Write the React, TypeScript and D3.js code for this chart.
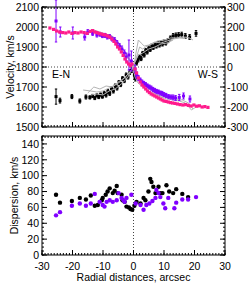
import React from 'react';
import * as d3 from 'd3';

// radial distance (arcsec), velocity (km/s), error
const blackVel: [number, number, number][] = [
  [-25.4, 1652, 38], [-24.1, 1632, 12], [-20.2, 1652, 10], [-17.6, 1630, 10], [-15.6, 1650, 10],
  [-14.3, 1648, 8], [-13.4, 1655, 8], [-12.7, 1645, 8], [-12.0, 1658, 8], [-11.4, 1650, 8],
  [-10.8, 1662, 8], [-10.2, 1652, 8], [-9.6, 1668, 10], [-9.0, 1660, 10], [-8.4, 1678, 10],
  [-7.8, 1668, 10], [-7.2, 1692, 10], [-6.6, 1680, 10], [-6.0, 1705, 10], [-5.4, 1695, 10],
  [-4.8, 1722, 10], [-4.2, 1712, 10], [-3.6, 1742, 10], [-3.0, 1732, 10], [-2.4, 1760, 10],
  [-1.8, 1750, 10], [-1.2, 1775, 12], [-0.6, 1785, 12], [-0.1, 1795, 12], [0.3, 1760, 15],
  [0.6, 1742, 12], [1.0, 1820, 10], [1.5, 1835, 10], [2.0, 1850, 10], [2.5, 1842, 10],
  [3.0, 1868, 10], [3.5, 1860, 10], [4.0, 1882, 10], [4.5, 1875, 10], [5.0, 1895, 10],
  [5.5, 1888, 10], [6.0, 1905, 10], [6.5, 1898, 10], [7.0, 1912, 10], [7.5, 1905, 10],
  [8.0, 1918, 10], [8.5, 1910, 10], [9.0, 1922, 10], [9.5, 1915, 10], [10.0, 1925, 10],
  [10.6, 1920, 10], [11.3, 1932, 10], [12.1, 1945, 10], [13.0, 1955, 12], [13.9, 1958, 12],
  [14.8, 1960, 12], [15.8, 1962, 12], [17.0, 1955, 12], [18.4, 1950, 12], [20.5, 1968, 14],
];

const pinkVel: [number, number][] = [
  [-27.4, 1995], [-26.2, 1988], [-25.2, 1980], [-24.2, 1975], [-23.2, 1972], [-22.2, 1970],
  [-21.2, 1975], [-20.2, 1968], [-19.2, 1972], [-18.2, 1970], [-17.2, 1975], [-16.2, 1972],
  [-15.2, 1968], [-14.2, 1978], [-13.4, 1982], [-12.7, 1975], [-12.0, 1972], [-11.3, 1968],
  [-10.6, 1965], [-9.9, 1962], [-9.2, 1960], [-8.5, 1955], [-7.8, 1950], [-7.1, 1940],
  [-6.4, 1928], [-5.8, 1915], [-5.2, 1900], [-4.6, 1890], [-4.0, 1875], [-3.4, 1858],
  [-2.8, 1840], [-2.2, 1825], [-1.6, 1815], [-1.0, 1808], [-0.5, 1815], [0.5, 1790],
  [1.0, 1770], [1.6, 1745], [2.2, 1725], [2.8, 1710], [3.4, 1700], [4.0, 1690], [4.6, 1680],
  [5.2, 1672], [5.8, 1665], [6.4, 1660], [7.0, 1655], [7.6, 1650], [8.2, 1645], [8.8, 1640],
  [9.4, 1635], [10.0, 1630], [10.7, 1628], [11.4, 1625], [12.1, 1622], [12.8, 1620],
  [13.6, 1618], [14.4, 1615], [15.3, 1612], [16.2, 1610], [17.1, 1612], [18.0, 1608],
  [18.9, 1605], [19.8, 1610], [20.7, 1604], [21.6, 1606], [22.5, 1600], [23.4, 1602], [24.4, 1598],
];

const purpleVel: [number, number, number][] = [
  [-25.4, 2030, 105], [-24.0, 1975, 25], [-19.9, 1970, 30], [-16.0, 1950, 15], [-15.0, 1975, 12],
  [-13.4, 1968, 10], [-12.0, 1960, 10], [-11.0, 1962, 8], [-10.2, 1955, 8], [-9.4, 1958, 10],
  [-8.6, 1950, 10], [-7.8, 1952, 10], [-7.0, 1940, 10], [-6.2, 1935, 12], [-5.4, 1920, 12],
  [-4.6, 1905, 12], [-3.8, 1890, 15], [-3.0, 1870, 15], [-2.4, 1850, 20], [-1.5, 1860, 75],
  [-0.7, 1830, 50], [0.5, 1790, 20], [1.0, 1760, 15], [1.6, 1745, 12], [2.2, 1735, 10],
  [2.8, 1725, 10], [3.4, 1718, 10], [4.0, 1712, 10], [4.6, 1705, 10], [5.2, 1700, 10],
  [5.8, 1695, 10], [6.4, 1688, 10], [7.0, 1683, 10], [7.6, 1678, 10], [8.2, 1675, 10],
  [8.8, 1670, 10], [9.4, 1668, 10], [10.0, 1662, 10], [10.7, 1658, 10], [11.5, 1652, 10],
  [12.3, 1650, 10], [13.0, 1648, 12], [13.8, 1645, 12], [15.0, 1648, 15], [16.4, 1655, 15],
  [18.5, 1640, 15],
];

const grayModels: [number, number][][] = [
  [[-16.5, 1685], [-14, 1680], [-12, 1675], [-10, 1680], [-8, 1695], [-6, 1710], [-4, 1730], [-2, 1760],
   [-1, 1780], [0, 1800], [1, 1850], [2, 1900], [3, 1890], [4, 1900], [6, 1915], [8, 1930], [10, 1935],
   [12, 1945], [14, 1945], [16, 1950], [18, 1948], [19.5, 1935]],
  [[-15, 1670], [-13, 1700], [-11, 1690], [-9, 1705], [-7, 1700], [-5, 1725], [-3, 1745], [-1.5, 1770],
   [0, 1790], [0.8, 1870], [1.6, 1935], [2.5, 1920], [3.5, 1905], [5, 1910], [7, 1925], [9, 1920],
   [11, 1930], [13, 1940], [15, 1945], [17, 1942]],
  [[-14, 1660], [-12, 1665], [-10, 1660], [-8, 1680], [-6, 1690], [-4, 1715], [-2, 1745], [-0.5, 1790],
   [0.5, 1830], [1.5, 1860], [3, 1870], [5, 1890], [7, 1900], [9, 1915], [11, 1920], [13, 1935]],
  [[-13, 1985], [-11, 1975], [-9, 1965], [-7, 1955], [-5, 1925], [-3, 1880], [-1.5, 1840], [-0.5, 1810],
   [0, 1790], [0.5, 1750], [1.5, 1720], [3, 1700], [5, 1680], [7, 1665], [9, 1650], [11, 1640],
   [13, 1635], [15, 1630], [17, 1620], [19, 1585], [20.5, 1600]],
  [[-12, 1970], [-10, 1968], [-8, 1960], [-6, 1940], [-4, 1900], [-2, 1860], [-1, 1830], [0, 1805],
   [1, 1780], [2, 1740], [4, 1705], [6, 1680], [8, 1660], [10, 1650], [12, 1645], [14, 1640],
   [16, 1635], [18, 1620], [19.5, 1590]],
];

const blackDisp: [number, number][] = [
  [-25.4, 76], [-24.1, 66], [-20.2, 68], [-17.6, 72], [-15.6, 70], [-14.0, 75], [-12.7, 62],
  [-11.7, 63], [-10.4, 69], [-10.1, 72], [-9.1, 76], [-8.5, 80], [-7.8, 84], [-6.8, 78], [-6.2, 81],
  [-5.5, 87], [-5.2, 78], [-3.9, 76], [-3.6, 69], [-2.9, 67], [-2.3, 61], [-1.5, 60], [-1.0, 58],
  [-0.4, 57], [0.3, 62], [1.0, 67], [2.3, 65], [3.3, 72], [3.9, 69], [4.9, 80], [5.5, 96],
  [5.9, 92], [6.5, 86], [7.2, 78], [8.2, 86], [8.8, 78], [9.5, 78], [10.8, 88], [11.7, 80],
  [13.0, 78], [14.0, 83], [16.0, 77], [17.9, 73],
];

const purpleDisp: [number, number][] = [
  [-25.4, 50], [-24.1, 54], [-20.2, 62], [-17.6, 65], [-15.6, 62], [-14.0, 65], [-12.7, 77],
  [-11.1, 67], [-10.1, 63], [-9.5, 61], [-8.8, 67], [-7.8, 69], [-6.8, 67], [-5.5, 69], [-4.9, 78],
  [-3.9, 72], [-3.3, 69], [-2.9, 67], [-2.3, 72], [-0.7, 76], [0.7, 65], [2.3, 63], [3.3, 57],
  [4.2, 63], [5.2, 65], [6.2, 68], [7.2, 72], [7.5, 82], [8.2, 78], [8.8, 73], [9.8, 65],
  [10.4, 59], [11.4, 72], [13.4, 59], [14.0, 66], [16.0, 70], [17.9, 70], [20.5, 73],
];

const xTicks = [-30, -20, -10, 0, 10, 20, 30];
const velTicks = [1500, 1600, 1700, 1800, 1900, 2000, 2100];
const relTicks = [-300, -200, -100, 0, 100, 200, 300];
const dispTicks = [0, 20, 40, 60, 80, 100, 120, 140];

const PINK = '#ff1a8c';
const PURPLE = '#8000ff';
const GRAY = '#b4b4b4';
const FONT = '"Liberation Sans", Arial, Helvetica, sans-serif';

const L = 42, R = 225;
const x = d3.scaleLinear().domain([-30, 30]).range([L, R]);
const yV = d3.scaleLinear().domain([1500, 2100]).range([127, 7]);
const yR = d3.scaleLinear().domain([-300, 300]).range([127, 7]);
const yD = d3.scaleLinear().domain([0, 150]).range([255, 136]);

function Frame({ y, majors, minorStep, rightScale, rightMajors }: any) {
  const [y1, y0] = y.range();
  const xMinor = d3.range(-30, 31, 1);
  const [d0, d1] = y.domain();
  const yMinor = d3.range(d0, d1 + 0.001, minorStep);
  const rs = rightScale || y;
  const rMajors = rightMajors || majors;
  const [r0, r1] = rs.domain();
  const rMinor = d3.range(r0, r1 + 0.001, minorStep);
  return (
    <g stroke="#000" strokeWidth={1} fill="none">
      <rect x={L} y={y0} width={R - L} height={y1 - y0} />
      {xMinor.map(v => (
        <g key={'xm' + v}>
          <line x1={x(v)} x2={x(v)} y1={y1} y2={y1 - 2} />
          <line x1={x(v)} x2={x(v)} y1={y0} y2={y0 + 2} />
        </g>
      ))}
      {xTicks.map(v => (
        <g key={'xM' + v}>
          <line x1={x(v)} x2={x(v)} y1={y1} y2={y1 - 5} />
          <line x1={x(v)} x2={x(v)} y1={y0} y2={y0 + 5} />
        </g>
      ))}
      {yMinor.map(v => (
        <line key={'ym' + v} x1={L} x2={L + 2} y1={y(v)} y2={y(v)} />
      ))}
      {majors.map((v: number) => (
        <line key={'yM' + v} x1={L} x2={L + 5} y1={y(v)} y2={y(v)} />
      ))}
      {rMinor.map(v => (
        <line key={'rm' + v} x1={R} x2={R - 2} y1={rs(v)} y2={rs(v)} />
      ))}
      {rMajors.map((v: number) => (
        <line key={'rM' + v} x1={R} x2={R - 5} y1={rs(v)} y2={rs(v)} />
      ))}
    </g>
  );
}

function ErrMarks({ data, color, size }: { data: [number, number, number][]; color: string; size: number }) {
  return (
    <g>
      {data.map(([dx, v, e], i) => (
        <g key={i} stroke={color} strokeWidth={1}>
          <line x1={x(dx)} x2={x(dx)} y1={yV(v - e)} y2={yV(v + e)} />
          <line x1={x(dx) - 1.2} x2={x(dx) + 1.2} y1={yV(v - e)} y2={yV(v - e)} />
          <line x1={x(dx) - 1.2} x2={x(dx) + 1.2} y1={yV(v + e)} y2={yV(v + e)} />
          <rect x={x(dx) - size / 2} y={yV(v) - size / 2} width={size} height={size} fill={color} stroke="none" />
        </g>
      ))}
    </g>
  );
}

export default function App() {
  const line = d3.line<[number, number]>().x(d => x(d[0])).y(d => yV(d[1]));
  const textStyle = { fontFamily: FONT, fontSize: 10.5 } as const;
  return (
    <svg width={249} height={288} style={{ position: 'absolute', left: 0, top: 0, background: '#fff' }}>
      {/* top panel */}
      <line x1={L} x2={R} y1={yV(1800)} y2={yV(1800)} stroke="#444" strokeDasharray="1 2" />
      <line x1={x(0)} x2={x(0)} y1={7} y2={127} stroke="#444" strokeDasharray="1 2" />
      <ErrMarks data={blackVel} color="#000" size={3} />
      {grayModels.map((m, i) => (
        <path key={i} d={line(m) || ''} fill="none" stroke={GRAY} strokeWidth={1} />
      ))}
      <ErrMarks data={purpleVel} color={PURPLE} size={3} />
      {pinkVel.map(([dx, v], i) => (
        <rect key={i} x={x(dx) - 1.6} y={yV(v) - 1.6} width={3.2} height={3.2} fill={PINK} />
      ))}
      <Frame y={yV} majors={velTicks} minorStep={20} rightScale={yR} rightMajors={relTicks} />
      <g style={textStyle}>
        {velTicks.map(v => (
          <text key={v} x={39} y={yV(v)} dy="0.36em" textAnchor="end">{v}</text>
        ))}
        {relTicks.map(v => (
          <text key={v} x={227} y={yR(v)} dy="0.36em">{v}</text>
        ))}
        <text x={52} y={78}>E-N</text>
        <text x={218} y={78} textAnchor="end">W-S</text>
        <text transform={`translate(14,${(7 + 127) / 2}) rotate(-90)`} textAnchor="middle">Velocity, km/s</text>
      </g>

      {/* bottom panel */}
      <line x1={x(0)} x2={x(0)} y1={136} y2={255} stroke="#444" strokeDasharray="1 2" />
      {blackDisp.map(([dx, v], i) => (
        <circle key={'b' + i} cx={x(dx)} cy={yD(v)} r={2.2} fill="#000" />
      ))}
      {purpleDisp.map(([dx, v], i) => (
        <circle key={'p' + i} cx={x(dx)} cy={yD(v)} r={2.2} fill={PURPLE} />
      ))}
      <Frame y={yD} majors={dispTicks} minorStep={5} />
      <g style={textStyle}>
        {dispTicks.map(v => (
          <text key={v} x={39} y={yD(v)} dy="0.36em" textAnchor="end">{v}</text>
        ))}
        {xTicks.map(v => (
          <text key={v} x={x(v)} y={270} textAnchor="middle">{v}</text>
        ))}
        <text transform={`translate(18,${(136 + 255) / 2}) rotate(-90)`} textAnchor="middle">Dispersion, km/s</text>
        <text x={x(0)} y={281} textAnchor="middle">Radial distances, arcsec</text>
      </g>
    </svg>
  );
}
